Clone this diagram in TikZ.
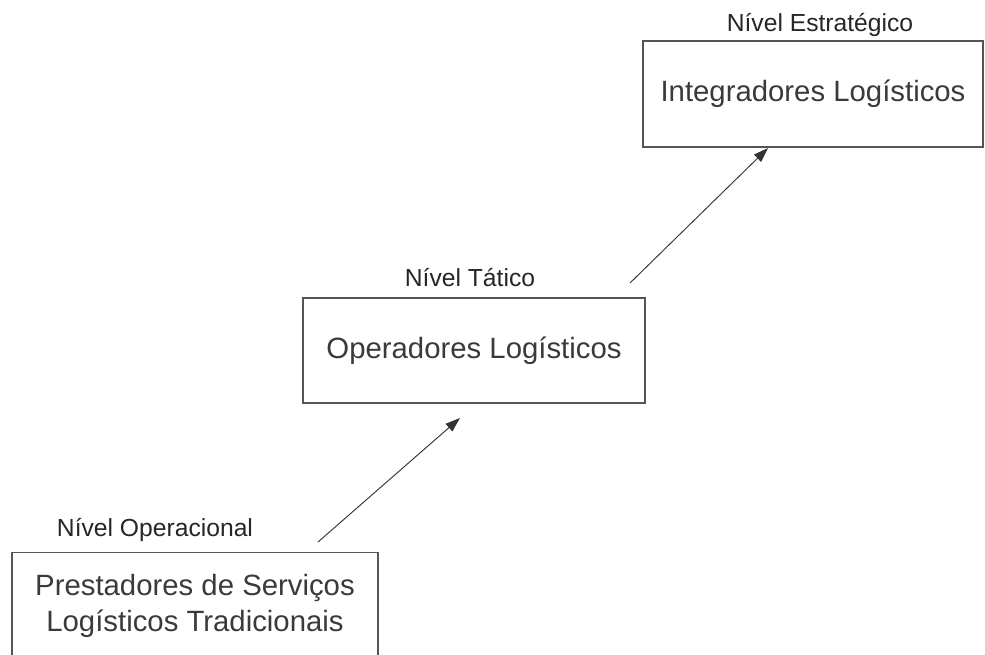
\documentclass[tikz,border=0pt]{standalone}
\usepackage{fontspec}
\setmainfont{Liberation Sans}
\usetikzlibrary{arrows.meta}
\definecolor{caixa}{HTML}{555555}
\definecolor{texto}{HTML}{3A3A3A}
\begin{document}
\begin{tikzpicture}[x=0.75pt,y=-0.75pt,
    nivel/.style={box, draw=caixa, line width=1.1pt, text=texto, font=\fontsize{22}{27}\selectfont, align=center},
    box/.style={inner sep=0pt},
    rotulo/.style={text=black!85, font=\fontsize{18.5}{22}\selectfont, inner sep=0pt},
    seta/.style={-{Triangle[length=11pt,width=7.5pt]}, line width=0.7pt, draw=black!80}]
    	\useasboundingbox (0,0) rectangle (985,655);
    	% caixas (medidas em pt)
    	\node[nivel, minimum width=274.5pt, minimum height=80.25pt] (op) at (195,606) {Prestadores de Servi\c{c}os\\Log\'isticos Tradicionais};
    	\node[nivel, minimum width=256.5pt, minimum height=78.75pt] (tat) at (474,350.5) {Operadores Log\'isticos};
    	\node[nivel, minimum width=255pt, minimum height=79.5pt] (est) at (813,94) {Integradores Log\'isticos};
    	\node[rotulo] (nop) at (155,530) {N\'ivel Operacional};
    	\node[rotulo] (ntat) at (470,278) {N\'ivel T\'atico};
    	\node[rotulo] (nest) at (820,25) {N\'ivel Estrat\'egico};
    	\coordinate (s1) at (318,542);
    	\coordinate (e1) at (460,418);
    	\coordinate (s2) at (630,283);
    	\coordinate (e2) at (768,148);
    	\draw[seta] (s1)--(e1);
    	\draw[seta] (s2)--(e2);
\end{tikzpicture}
\end{document}
